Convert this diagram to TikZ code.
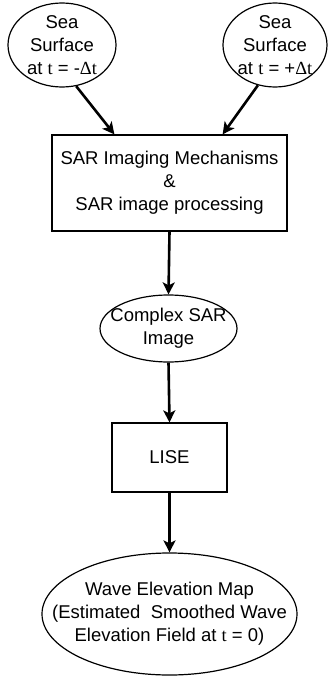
\documentclass[tikz,border=0pt]{standalone}
\usepackage{fontspec}
\setmainfont{Liberation Sans}
\newfontfamily\tms{Liberation Serif}
\usetikzlibrary{shapes.geometric,arrows.meta}
\begin{document}
\begin{tikzpicture}[x=1pt,y=-1pt,
  lbl/.style={align=center,font=\fontsize{18.5}{23}\selectfont,inner sep=0pt},
  oval/.style={draw,ellipse,line width=1.2pt,inner sep=0pt},
  boxnode/.style={lbl,draw,rectangle,line width=1.2pt},
  arr/.style={line width=2.6pt,-{Stealth[length=12pt,width=12pt,inset=3pt]}}]
\useasboundingbox (0,0) rectangle (328,677);
\node[oval,minimum width=108pt,minimum height=84pt,
  label={[lbl]center:{Sea\\Surface\\at {\tms t} = -{\tms\char"0394 t}}}] (s1) at (62,45) {};
\node[oval,minimum width=104pt,minimum height=84pt,
  label={[lbl]center:{Sea\\Surface\\at {\tms t} = +{\tms\char"0394 t}}}] (s2) at (275,45) {};
\node[boxnode,minimum width=235pt,minimum height=96pt] (b1) at (169.5,183)
  {SAR Imaging Mechanisms\\\&\\SAR image processing};
\node[oval,minimum width=137pt,minimum height=67pt,
  label={[lbl]center:{Complex SAR\\Image}}] (e3) at (168.5,328.5) {};
\node[boxnode,minimum width=115pt,minimum height=69pt] (b2) at (169.5,457.5)
  {LISE};
\node[oval,minimum width=255pt,minimum height=122pt,
  label={[lbl]center:{Wave Elevation Map\\(Estimated\ \ Smoothed Wave\\Elevation Field at {\tms t} = 0)}}] (e4) at (169.5,614) {};
\coordinate (t1) at ([xshift=63pt]b1.north west);
\coordinate (t2) at ([xshift=-65pt]b1.north east);
\draw[arr] (s1.-71) -- (t1);
\draw[arr] (s2.-113) -- (t2);
\draw[arr] (b1.south) -- (e3.north);
\draw[arr] (e3.south) -- (b2.north);
\draw[arr] (b2.south) -- (e4.north);
\end{tikzpicture}
\end{document}
